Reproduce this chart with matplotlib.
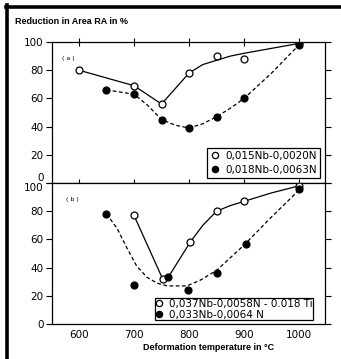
import matplotlib
matplotlib.use('Agg')
import matplotlib.pyplot as plt
from matplotlib.lines import Line2D

# (a) measured points
a_temp_open = [600, 700, 750, 800, 850, 900, 1000]
a_ra_open = [80, 69, 56, 78, 90, 88, 99]
a_temp_fill = [650, 700, 750, 800, 850, 900, 1000]
a_ra_fill = [66, 63, 45, 39, 47, 60, 98]
# (a) hand drawn curves
a_curve_open_t = [600, 700, 750, 800, 825, 850, 875, 900, 950, 1000]
a_curve_open_ra = [80, 69, 56, 78, 84, 87, 90, 92, 95.5, 99]
a_curve_fill_t = [650, 700, 725, 750, 775, 800, 825, 850, 875, 900, 950, 1000]
a_curve_fill_ra = [66, 63, 55, 45, 41, 39, 42, 47, 53, 60, 78, 98]

# (b) measured points
b_temp_open = [700, 752, 802, 850, 900, 1000]
b_ra_open = [77, 32, 58, 80, 87, 98]
b_temp_fill = [650, 700, 762, 798, 850, 903, 1000]
b_ra_fill = [78, 28, 33, 24, 36, 57, 96]
# (b) hand drawn curves
b_curve_open1_t = [700, 752]
b_curve_open1_ra = [77, 32]
b_curve_open2_t = [762, 802, 825, 850, 875, 900, 950, 1000]
b_curve_open2_ra = [33, 58, 70, 80, 84, 87, 93, 98]
b_curve_fill_t = [650, 669, 687, 705, 724, 742, 760, 778, 796, 820, 850, 900, 950, 1000]
b_curve_fill_ra = [78, 68, 54, 41, 33, 29, 27, 27, 27, 31, 38, 56, 76, 95]

labels_a = ['0,015Nb-0,0020N', '0,018Nb-0,0063N']
labels_b = ['0,037Nb-0,0058N - 0.018 Ti', '0,033Nb-0,0064 N']

W, H = 341, 359
fig = plt.figure(figsize=(W / 100, H / 100), dpi=100)

# thick frame on top and left
fig.add_artist(Line2D([5.5 / W, 1], [1 - 6.5 / H, 1 - 6.5 / H], color='black', lw=2.6, transform=fig.transFigure))
fig.add_artist(Line2D([6.5 / W, 6.5 / W], [0, 1 - 5 / H], color='black', lw=2.6, transform=fig.transFigure))

left = 52 / W
width = 273 / W
ax1 = fig.add_axes([left, (H - 183) / H, width, 141 / H])
ax2 = fig.add_axes([left, (H - 324) / H, width, 141 / H])

dash = (0, (3, 2))
mk = dict(ms=5, mec='black', mew=0.9, zorder=5, ls='none')

ax1.plot(a_curve_open_t, a_curve_open_ra, color='black', lw=0.9)
ax1.plot(a_curve_fill_t, a_curve_fill_ra, color='black', lw=0.9, ls=dash)
ax1.plot(a_temp_open, a_ra_open, 'o', mfc='white', **mk)
ax1.plot(a_temp_fill, a_ra_fill, 'o', mfc='black', **mk)

ax2.plot(b_curve_open1_t, b_curve_open1_ra, color='black', lw=0.9)
ax2.plot(b_curve_open2_t, b_curve_open2_ra, color='black', lw=0.9)
ax2.plot(b_curve_fill_t, b_curve_fill_ra, color='black', lw=0.9, ls=dash)
ax2.plot(b_temp_open, b_ra_open, 'o', mfc='white', **mk)
ax2.plot(b_temp_fill, b_ra_fill, 'o', mfc='black', **mk)

for ax in (ax1, ax2):
    ax.set_xlim(551, 1047)
    ax.set_ylim(0, 100)
    ax.set_yticks([0, 20, 40, 60, 80, 100])
    ax.set_xticks([600, 700, 800, 900, 1000])
    for s in ax.spines.values():
        s.set_linewidth(0.9)
    ax.tick_params(axis='y', which='both', direction='out', length=4, width=0.8,
                   right=True, pad=2, labelsize=7.5)

ax1.tick_params(axis='x', top=True, bottom=True, direction='inout', length=6,
                width=0.8, labelbottom=False)
ax2.tick_params(axis='x', top=False, bottom=False, labelsize=7.5, pad=1)

ax1.get_yticklabels()[0].set_va('bottom')
ax2.get_yticklabels()[-1].set_va('top')

ax1.text(0.059, 0.88, '( a )', transform=ax1.transAxes, fontsize=4.5, ha='center', va='center')
ax2.text(0.073, 0.88, '( b )', transform=ax2.transAxes, fontsize=4.5, ha='center', va='center')

h_open = Line2D([], [], marker='o', ls='none', mfc='white', mec='black', ms=4.5, mew=0.9)
h_fill = Line2D([], [], marker='o', ls='none', mfc='black', mec='black', ms=4.5, mew=0.9)

leg1 = ax1.legend([h_open, h_fill], labels_a, loc='lower right', bbox_to_anchor=(0.982, 0.035),
                  fontsize=7.5, frameon=True, fancybox=False, edgecolor='black', framealpha=1,
                  borderpad=0.3, handlelength=1.0, handletextpad=0.5, labelspacing=0.4,
                  borderaxespad=0)
leg1.get_frame().set_linewidth(0.9)
leg2 = ax2.legend([h_open, h_fill], labels_b, loc='lower right', bbox_to_anchor=(0.956, 0.028),
                  fontsize=7.5, frameon=True, fancybox=False, edgecolor='black', framealpha=1,
                  borderpad=0.05, handlelength=0.8, handletextpad=0.5, labelspacing=0.05,
                  borderaxespad=0)
leg2.get_frame().set_linewidth(0.9)

fig.text(15 / W, 1 - 22 / H, 'Reduction in Area RA in %', fontsize=6.5, fontweight='bold',
         family='Liberation Sans', ha='left', va='center')
fig.text(209 / W, 1 - 347 / H, 'Deformation temperature in °C', fontsize=6.5, fontweight='bold',
         family='Liberation Sans', ha='center', va='center')

fig.savefig('out.png', dpi=100)
